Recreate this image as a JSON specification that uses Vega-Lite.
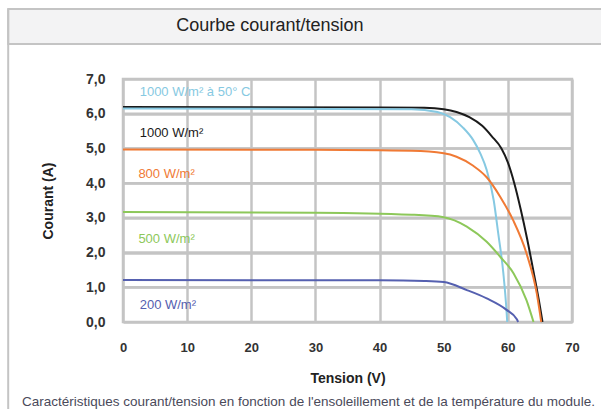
{
  "$schema": "https://vega.github.io/schema/vega-lite/v6.json",
  "width": 449,
  "height": 243,
  "autosize": {"type": "none"},
  "padding": {"left": 123, "top": 79, "right": 29, "bottom": 87},
  "background": "white",
  "config": {
    "view": {"stroke": "#c4c4c4", "strokeWidth": 2.5},
    "font": "Liberation Sans",
    "axis": {"gridColor": "#c4c4c4", "gridWidth": 2.5}
  },
  "resolve": {"axis": {"x": "independent", "y": "independent"}},
  "datasets": {
    "grid": [{"I": 1}, {"I": 2}, {"I": 3}, {"I": 4}, {"I": 5}, {"I": 6}],
    "curves": [
      {"serie": "1000 W/m²", "V": 0, "I": 6.19},
      {"serie": "1000 W/m²", "V": 40, "I": 6.18},
      {"serie": "1000 W/m²", "V": 47, "I": 6.17},
      {"serie": "1000 W/m²", "V": 50, "I": 6.13},
      {"serie": "1000 W/m²", "V": 52, "I": 6.05},
      {"serie": "1000 W/m²", "V": 54, "I": 5.9},
      {"serie": "1000 W/m²", "V": 56, "I": 5.65},
      {"serie": "1000 W/m²", "V": 57.5, "I": 5.35},
      {"serie": "1000 W/m²", "V": 59, "I": 5.0},
      {"serie": "1000 W/m²", "V": 60, "I": 4.6},
      {"serie": "1000 W/m²", "V": 61, "I": 4.0},
      {"serie": "1000 W/m²", "V": 62, "I": 3.25},
      {"serie": "1000 W/m²", "V": 63, "I": 2.4},
      {"serie": "1000 W/m²", "V": 64, "I": 1.45},
      {"serie": "1000 W/m²", "V": 65, "I": 0.45},
      {"serie": "1000 W/m²", "V": 65.4, "I": 0},
      {"serie": "1000 W/m² à 50° C", "V": 0, "I": 6.15},
      {"serie": "1000 W/m² à 50° C", "V": 45, "I": 6.13},
      {"serie": "1000 W/m² à 50° C", "V": 49, "I": 6.05},
      {"serie": "1000 W/m² à 50° C", "V": 51, "I": 5.9},
      {"serie": "1000 W/m² à 50° C", "V": 53, "I": 5.6},
      {"serie": "1000 W/m² à 50° C", "V": 54.6, "I": 5.24},
      {"serie": "1000 W/m² à 50° C", "V": 55.7, "I": 4.86},
      {"serie": "1000 W/m² à 50° C", "V": 56.7, "I": 4.38},
      {"serie": "1000 W/m² à 50° C", "V": 57.8, "I": 3.5},
      {"serie": "1000 W/m² à 50° C", "V": 58.5, "I": 2.55},
      {"serie": "1000 W/m² à 50° C", "V": 59.3, "I": 1.4},
      {"serie": "1000 W/m² à 50° C", "V": 59.8, "I": 0.3},
      {"serie": "1000 W/m² à 50° C", "V": 59.9, "I": 0},
      {"serie": "800 W/m²", "V": 0, "I": 4.97},
      {"serie": "800 W/m²", "V": 30, "I": 4.96},
      {"serie": "800 W/m²", "V": 45, "I": 4.93},
      {"serie": "800 W/m²", "V": 50, "I": 4.86},
      {"serie": "800 W/m²", "V": 52, "I": 4.76},
      {"serie": "800 W/m²", "V": 54.6, "I": 4.5},
      {"serie": "800 W/m²", "V": 56.7, "I": 4.17},
      {"serie": "800 W/m²", "V": 58.8, "I": 3.61},
      {"serie": "800 W/m²", "V": 60.8, "I": 2.94},
      {"serie": "800 W/m²", "V": 62.9, "I": 1.98},
      {"serie": "800 W/m²", "V": 64.5, "I": 0.83},
      {"serie": "800 W/m²", "V": 65.2, "I": 0},
      {"serie": "500 W/m²", "V": 0, "I": 3.17},
      {"serie": "500 W/m²", "V": 30, "I": 3.15},
      {"serie": "500 W/m²", "V": 45, "I": 3.09},
      {"serie": "500 W/m²", "V": 50, "I": 3.02},
      {"serie": "500 W/m²", "V": 53.6, "I": 2.75},
      {"serie": "500 W/m²", "V": 56.7, "I": 2.31},
      {"serie": "500 W/m²", "V": 58.8, "I": 1.88},
      {"serie": "500 W/m²", "V": 60.9, "I": 1.4},
      {"serie": "500 W/m²", "V": 62.9, "I": 0.63},
      {"serie": "500 W/m²", "V": 64, "I": 0},
      {"serie": "200 W/m²", "V": 0, "I": 1.21},
      {"serie": "200 W/m²", "V": 40, "I": 1.2},
      {"serie": "200 W/m²", "V": 47, "I": 1.18},
      {"serie": "200 W/m²", "V": 50, "I": 1.15},
      {"serie": "200 W/m²", "V": 53.6, "I": 0.92},
      {"serie": "200 W/m²", "V": 56.7, "I": 0.68},
      {"serie": "200 W/m²", "V": 59.8, "I": 0.35},
      {"serie": "200 W/m²", "V": 61.4, "I": 0.08},
      {"serie": "200 W/m²", "V": 61.6, "I": 0}
    ],
    "labels": [
      {"serie": "1000 W/m² à 50° C", "V": 2.6, "I": 6.63},
      {"serie": "1000 W/m²", "V": 2.6, "I": 5.45},
      {"serie": "800 W/m²", "V": 2.4, "I": 4.27},
      {"serie": "500 W/m²", "V": 2.4, "I": 2.39},
      {"serie": "200 W/m²", "V": 2.6, "I": 0.49}
    ]
  },
  "layer": [
    {
      "data": {"name": "grid"},
      "mark": {"type": "rule", "stroke": "#c4c4c4", "strokeWidth": 2.5},
      "encoding": {
        "y": {"field": "I", "type": "quantitative", "scale": {"domain": [0, 7], "nice": false, "zero": false}, "axis": null}
      }
    },
    {
      "data": {"name": "curves"},
      "mark": {"type": "line", "strokeWidth": 2, "interpolate": "monotone"},
      "encoding": {
        "x": {
          "field": "V", "type": "quantitative",
          "scale": {"domain": [0, 70], "nice": false, "zero": false},
          "axis": {
            "title": "Tension (V)", "values": [0, 10, 20, 30, 40, 50, 60, 70],
            "grid": true,
            "domain": false, "ticks": false, "tickSize": 0,
            "labelOverlap": false, "labelBound": false, "labelFlush": false,
            "labelFontSize": 13, "labelFontWeight": "bold", "labelColor": "#333333", "labelPadding": 19,
            "titleFontSize": 14, "titleFontWeight": "bold", "titleColor": "#222222", "titlePadding": 17
          }
        },
        "y": {
          "field": "I", "type": "quantitative",
          "scale": {"domain": [0, 7], "nice": false, "zero": false},
          "axis": {
            "title": "Courant (A)", "values": [0, 1, 2, 3, 4, 5, 6, 7],
            "labelExpr": "replace(format(datum.value, '.1f'), '.', ',')",
            "grid": true,
            "domain": false, "ticks": false, "tickSize": 0,
            "labelOverlap": false,
            "labelFontSize": 14, "labelFontWeight": "bold", "labelColor": "#333333", "labelPadding": 18,
            "titleFontSize": 14, "titleFontWeight": "bold", "titleColor": "#222222", "titlePadding": 30
          }
        },
        "color": {
          "field": "serie", "type": "nominal",
          "scale": {
            "domain": ["1000 W/m²", "1000 W/m² à 50° C", "800 W/m²", "500 W/m²", "200 W/m²"],
            "range": ["#1a1a1a", "#86c9e2", "#f07a35", "#8dc85a", "#5560b0"]
          },
          "legend": null
        }
      }
    },
    {
      "data": {"values": [{}]},
      "mark": {"type": "rect", "fill": "#f3f3f4", "stroke": "#c4c4c4", "strokeWidth": 2},
      "encoding": {
        "x": {"datum": -17.9, "type": "quantitative", "axis": null},
        "x2": {"datum": 80},
        "y": {"datum": 9.02, "type": "quantitative", "axis": null},
        "y2": {"datum": 8.01}
      }
    },
    {
      "data": {"values": [{}]},
      "mark": {"type": "rule", "stroke": "#c4c4c4", "strokeWidth": 2},
      "encoding": {
        "x": {"datum": -17.9, "type": "quantitative", "axis": null},
        "y": {"datum": 9.02, "type": "quantitative", "axis": null},
        "y2": {"datum": -3}
      }
    },
    {
      "data": {"values": [{}]},
      "mark": {"type": "text", "text": "Courbe courant/tension", "fontSize": 18, "color": "#222222", "align": "center", "baseline": "middle"},
      "encoding": {
        "x": {"datum": 22.9, "type": "quantitative", "axis": null},
        "y": {"datum": 8.53, "type": "quantitative", "axis": null}
      }
    },
    {
      "data": {"values": [{}]},
      "mark": {"type": "text", "text": "Caractéristiques courant/tension en fonction de l'ensoleillement et de la température du module.", "fontSize": 13.5, "color": "#4a4a5a", "align": "left", "baseline": "middle"},
      "encoding": {
        "x": {"datum": -15.75, "type": "quantitative", "axis": null},
        "y": {"datum": -2.3, "type": "quantitative", "axis": null}
      }
    },
    {
      "data": {"name": "labels"},
      "mark": {"type": "text", "fontSize": 13, "align": "left", "baseline": "middle"},
      "encoding": {
        "x": {"field": "V", "type": "quantitative", "axis": null},
        "y": {"field": "I", "type": "quantitative", "axis": null},
        "text": {"field": "serie"},
        "color": {"field": "serie", "type": "nominal"}
      }
    }
  ]
}
